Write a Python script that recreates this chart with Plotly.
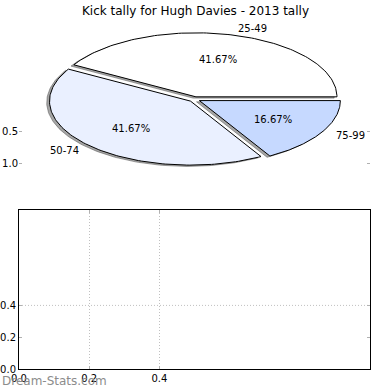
import numpy as np
import plotly.graph_objects as go

# ---- data ----
title_text = "Kick tally for Hugh Davies - 2013 tally"
categories = ["25-49", "50-74", "75-99"]
counts = [5, 5, 2]
slice_colors = ["#ffffff", "#eaf0ff", "#c6d9ff"]
pie_y_ticks = [0.5, 1.0]
bottom_x_ticks = [0.0, 0.2, 0.4]
bottom_y_ticks = [0.0, 0.2, 0.4]
bottom_y_grid = [0.4]
watermark = "Dream-Stats.com"

# ---- style constants ----
W = H = 390
EXPLODE = 0.04
SHADOW = 0.02
FONT = "DejaVu Sans"
GRID_DASH = "1px,2px"


def fx(p):
    return p / W


def fy(p):
    return 1 - p / H


fig = go.Figure()

total = sum(counts)
cum = 0.0
wedges = []
for cat, val, col in zip(categories, counts, slice_colors):
    t1 = 2 * np.pi * cum / total
    t2 = 2 * np.pi * (cum + val) / total
    cum += val
    mid = (t1 + t2) / 2
    ex, ey = EXPLODE * np.cos(mid), EXPLODE * np.sin(mid)
    t = np.linspace(t1, t2, 120)
    xs = np.concatenate([[ex], ex + np.cos(t), [ex]])
    ys = np.concatenate([[ey], ey + np.sin(t), [ey]])
    wedges.append((cat, val, col, mid, xs, ys))

# shadows first
for cat, val, col, mid, xs, ys in wedges:
    fig.add_trace(go.Scatter(
        x=xs - SHADOW, y=-(ys - SHADOW), mode="lines", fill="toself",
        fillcolor="rgba(77,77,77,0.5)", line=dict(color="rgba(77,77,77,0.5)", width=1),
        hoverinfo="skip", showlegend=False, xaxis="x", yaxis="y"))

for cat, val, col, mid, xs, ys in wedges:
    fig.add_trace(go.Scatter(
        x=xs, y=-ys, mode="lines", fill="toself", fillcolor=col,
        line=dict(color="black", width=1), hoverinfo="skip", showlegend=False,
        xaxis="x", yaxis="y"))

annotations = []
for cat, val, col, mid, xs, ys in wedges:
    c, s = np.cos(mid), np.sin(mid)
    lx, ly = (EXPLODE + 1.1) * c, (EXPLODE + 1.1) * s
    annotations.append(dict(
        x=lx, y=-ly, xref="x", yref="y", text=cat, showarrow=False,
        xanchor="left" if lx > 0 else "right", yanchor="middle",
        font=dict(family=FONT, size=10, color="black")))
    px_, py_ = (EXPLODE + 0.6) * c, (EXPLODE + 0.6) * s
    annotations.append(dict(
        x=px_, y=-py_, xref="x", yref="y", text="%.2f%%" % (100.0 * val / total),
        showarrow=False, xanchor="center", yanchor="middle",
        font=dict(family=FONT, size=10, color="black")))

annotations.append(dict(
    x=0.5, y=fy(11), xref="paper", yref="paper", text=title_text, showarrow=False,
    xanchor="center", yanchor="middle", font=dict(family=FONT, size=12, color="black")))
annotations.append(dict(
    x=fx(0), y=fy(381), xref="paper", yref="paper", text=watermark, showarrow=False,
    xanchor="left", yanchor="middle", font=dict(family=FONT, size=12, color="#8c8c8c")))

shapes = []
for g in bottom_y_grid:
    shapes.append(dict(type="line", xref="x2 domain", yref="y2", x0=0, x1=1, y0=g, y1=g,
                       line=dict(color="#c0c0c0", width=1, dash=GRID_DASH), layer="below"))

# dummy trace for bottom axes
fig.add_trace(go.Scatter(x=[], y=[], xaxis="x2", yaxis="y2", showlegend=False))

R = 175.5 / 141.0
tickfont = dict(family=FONT, size=10, color="black")
fig.update_layout(
    width=W, height=H, margin=dict(l=0, r=0, t=0, b=0, autoexpand=False),
    paper_bgcolor="white", plot_bgcolor="rgba(0,0,0,0)",
    xaxis=dict(domain=[fx(19), fx(370)], range=[-R, R], showgrid=False, zeroline=False,
               showticklabels=False, ticks="", showline=False, automargin=False),
    yaxis=dict(domain=[fy(180), fy(20)], range=[(180 - 99.3) / 64, (20 - 99.3) / 64],
               tickvals=pie_y_ticks, tickformat=".1f", ticks="inside", ticklen=3,
               tickcolor="#b0b0b0", mirror="ticks", showline=False, showgrid=False,
               zeroline=False, tickfont=tickfont, automargin=False),
    xaxis2=dict(domain=[fx(19), fx(370)], range=[0, 1], anchor="y2",
                tickvals=bottom_x_ticks, tickformat=".1f", ticks="inside", ticklen=3,
                tickcolor="#b0b0b0", showline=True, linecolor="black", linewidth=1,
                mirror="ticks", showgrid=True, gridcolor="#c0c0c0", griddash=GRID_DASH,
                gridwidth=1, zeroline=False, tickfont=tickfont, automargin=False),
    yaxis2=dict(domain=[fy(369), fy(210)], range=[0, 1], anchor="x2",
                tickvals=bottom_y_ticks, tickformat=".1f", ticks="inside", ticklen=3,
                tickcolor="#b0b0b0", showline=True, linecolor="black", linewidth=1,
                mirror="ticks", showgrid=False, zeroline=False, tickfont=tickfont,
                automargin=False),
    annotations=annotations, shapes=shapes,
)

fig.write_html("out.html", config={"displayModeBar": False},
               post_script="document.body.style.margin='0px';document.body.style.overflow='hidden';")
